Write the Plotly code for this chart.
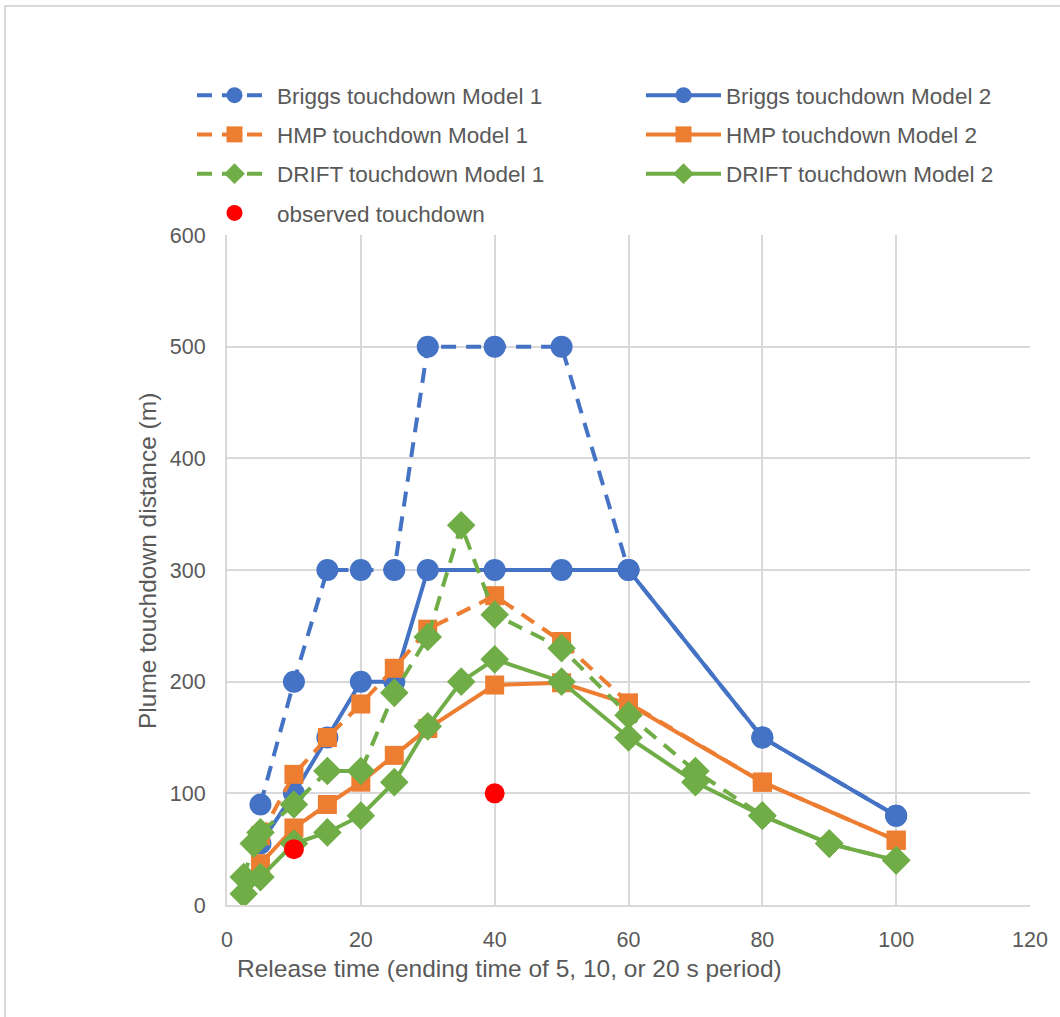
import plotly.graph_objects as go

# Release times (s) and touchdown distances (m)
briggs_m1_x = [5, 10, 15, 20, 25, 30, 40, 50, 60, 80, 100]
briggs_m1_y = [90, 200, 300, 300, 300, 500, 500, 500, 300, 150, 80]

briggs_m2_x = [5, 10, 15, 20, 25, 30, 40, 50, 60, 80, 100]
briggs_m2_y = [55, 100, 150, 200, 200, 300, 300, 300, 300, 150, 80]

hmp_m1_x = [5, 10, 15, 20, 25, 30, 40, 50, 60, 80, 100]
hmp_m1_y = [62, 117, 150, 180, 212, 247, 277, 236, 181, 110, 58]

hmp_m2_x = [5, 10, 15, 20, 25, 30, 40, 50, 60, 80, 100]
hmp_m2_y = [37, 69, 90, 110, 134, 158, 197, 199, 180, 110, 58]

drift_m1_x = [2.5, 4, 5, 10, 15, 20, 25, 30, 35, 40, 50, 60, 70, 80, 90, 100]
drift_m1_y = [25, 55, 65, 90, 120, 120, 190, 240, 340, 260, 230, 170, 120, 80, 55, 40]

drift_m2_x = [2.5, 5, 10, 15, 20, 25, 30, 35, 40, 50, 60, 70, 80, 90, 100]
drift_m2_y = [10, 25, 55, 65, 80, 110, 160, 200, 220, 200, 150, 110, 80, 55, 40]

observed_x = [10, 40]
observed_y = [50, 100]

BLUE = "#4472C4"
ORANGE = "#ED7D31"
GREEN = "#70AD47"
RED = "#FF0000"
TEXT = "#595959"
GRID = "#D9D9D9"
FONT = "Liberation Sans, Arial, sans-serif"
DASH = "15px,10px"

LEGEND_SIZE = 22.5
TICK_SIZE = 21.5
TITLE_SIZE = 24.5

W, H = 1060, 1017
L, R, T, B = 227, 30, 235, 112
PW, PH = W - L - R, H - T - B


def px_x(p):
    return (p - L) / PW


def px_y(p):
    return (H - B - p) / PH


fig = go.Figure()


def add_series(x, y, name, color, symbol, dash, size, legend):
    fig.add_trace(go.Scatter(
        x=x, y=y, name=name, mode="lines+markers",
        line=dict(color=color, width=4, dash=dash),
        marker=dict(color=color, symbol=symbol, size=size),
        legend=legend, legendgroup=name,
    ))


add_series(briggs_m1_x, briggs_m1_y, "Briggs touchdown Model 1", BLUE, "circle", DASH, 22, "legend")
add_series(briggs_m2_x, briggs_m2_y, "Briggs touchdown Model 2", BLUE, "circle", "solid", 22, "legend2")
add_series(hmp_m1_x, hmp_m1_y, "HMP touchdown Model 1", ORANGE, "square", DASH, 19, "legend")
add_series(hmp_m2_x, hmp_m2_y, "HMP touchdown Model 2", ORANGE, "square", "solid", 19, "legend2")
add_series(drift_m1_x, drift_m1_y, "DRIFT touchdown Model 1", GREEN, "diamond", DASH, 22, "legend")
add_series(drift_m2_x, drift_m2_y, "DRIFT touchdown Model 2", GREEN, "diamond", "solid", 22, "legend2")

fig.add_trace(go.Scatter(
    x=observed_x, y=observed_y, name="observed touchdown", mode="markers",
    marker=dict(color=RED, symbol="circle", size=20),
    legend="legend", legendgroup="observed touchdown",
))

legend_style = dict(
    orientation="v", xanchor="left", yanchor="top",
    font=dict(family=FONT, size=LEGEND_SIZE, color=TEXT),
    bgcolor="rgba(0,0,0,0)", itemwidth=75, tracegroupgap=7,
    traceorder="grouped", itemclick=False, itemdoubleclick=False,
)

fig.update_layout(
    width=W, height=H,
    margin=dict(l=L, r=R, t=T, b=B),
    paper_bgcolor="white", plot_bgcolor="white",
    font=dict(family=FONT, size=TICK_SIZE, color=TEXT),
    showlegend=True,
    legend=dict(x=px_x(192), y=px_y(74), **legend_style),
    legend2=dict(x=px_x(641), y=px_y(74), **legend_style),
    xaxis=dict(
        range=[0, 120], dtick=20, tick0=0,
        showgrid=True, gridcolor=GRID, gridwidth=2,
        showline=True, linecolor=GRID, linewidth=2,
        zeroline=False, ticks="", ticklabelstandoff=14,
        tickfont=dict(family=FONT, size=TICK_SIZE, color=TEXT),
    ),
    yaxis=dict(
        range=[0, 600], dtick=100, tick0=0,
        showgrid=True, gridcolor=GRID, gridwidth=2,
        showline=True, linecolor=GRID, linewidth=2,
        zeroline=False, ticks="", ticklabelstandoff=15,
        tickfont=dict(family=FONT, size=TICK_SIZE, color=TEXT),
    ),
    annotations=[
        dict(text="Release time (ending time of 5, 10, or 20 s period)",
             xref="paper", yref="paper", x=px_x(235), y=px_y(968),
             xanchor="left", yanchor="middle", showarrow=False,
             font=dict(family=FONT, size=TITLE_SIZE, color=TEXT)),
        dict(text="Plume touchdown distance (m)",
             xref="paper", yref="paper", x=px_x(147), y=px_y(561),
             xanchor="center", yanchor="middle", textangle=-90, showarrow=False,
             font=dict(family=FONT, size=TITLE_SIZE, color=TEXT)),
    ],
    shapes=[
        dict(type="rect", xref="paper", yref="paper",
             x0=px_x(5), x1=px_x(1120), y0=px_y(1060), y1=px_y(6),
             line=dict(color=GRID, width=2), fillcolor="rgba(0,0,0,0)",
             layer="below"),
    ],
)

fig.write_html("out.html")
